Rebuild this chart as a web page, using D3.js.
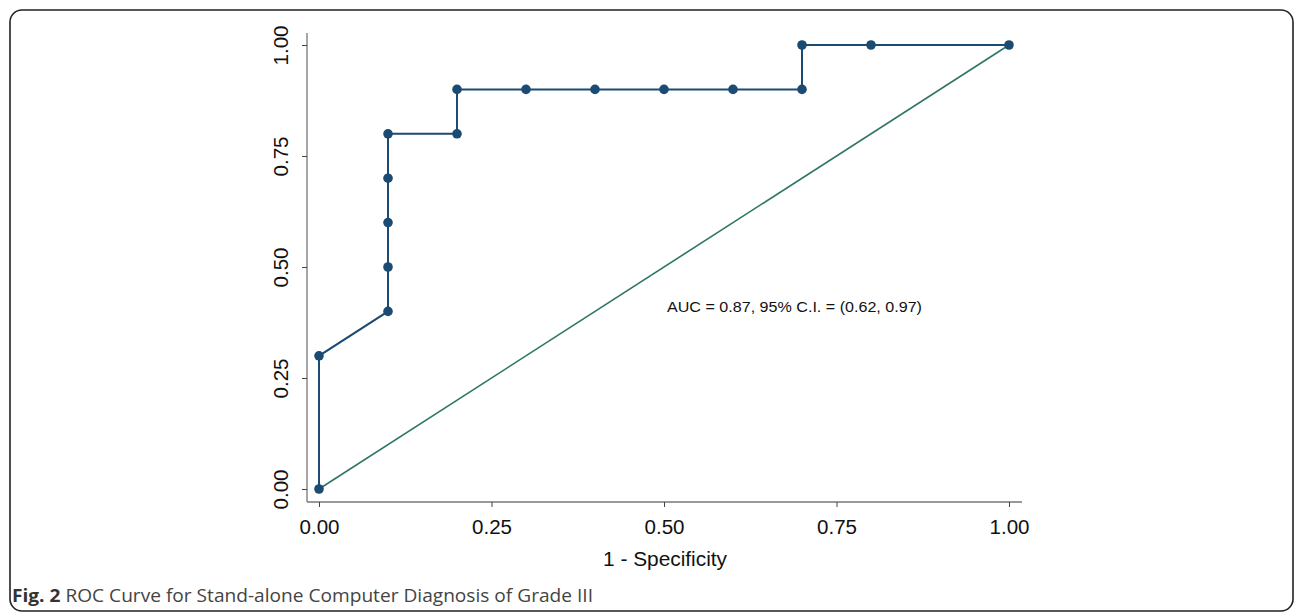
<!DOCTYPE html>
<html><head><meta charset="utf-8">
<script src="https://cdn.jsdelivr.net/npm/d3@7"></script>
<style>body{margin:0;background:#fff}svg{display:block}</style>
</head><body>
<svg id="c" width="1296" height="613"></svg>
<script>
const fpr = [0, 0, 0.1, 0.1, 0.1, 0.1, 0.1, 0.2, 0.2, 0.3, 0.4, 0.5, 0.6, 0.7, 0.7, 0.8, 1];
const tpr = [0, 0.3, 0.4, 0.5, 0.6, 0.7, 0.8, 0.8, 0.9, 0.9, 0.9, 0.9, 0.9, 0.9, 1, 1, 1];
const refX = [0, 1];
const refY = [0, 1];
const tickVals = [0, 0.25, 0.5, 0.75, 1];
const tickLabels = ["0.00", "0.25", "0.50", "0.75", "1.00"];
const xTitle = "1 - Specificity";
const aucText = "AUC = 0.87, 95% C.I. = (0.62, 0.97)";
const captionBold = "Fig. 2";
const captionText = " ROC Curve for Stand-alone Computer Diagnosis of Grade III";

const svg = d3.select("#c");
svg.append("rect").attr("x",10).attr("y",10).attr("width",1283).attr("height",601)
  .attr("rx",12).attr("fill","none").attr("stroke","#222").attr("stroke-width",1.6);

const x = d3.scaleLinear().domain([0,1]).range([319,1009]);
const y = d3.scaleLinear().domain([0,1]).range([489,45]);
const font = "'Liberation Sans', Arial, sans-serif";

// axes
const xAxis = d3.axisBottom(x).tickValues(tickVals).tickFormat((d,i)=>tickLabels[i]).tickSize(5).tickSizeOuter(0);
const gx = svg.append("g").attr("transform","translate(0,502)").call(xAxis);
gx.select(".domain").attr("d","M307,0H1022").attr("stroke","#777").attr("stroke-width",1.3);
gx.selectAll(".tick line").attr("stroke","#444");
gx.selectAll(".tick text").attr("font-family",font).attr("font-size",20).attr("fill","#111")
  .attr("dy",null).attr("y",32).attr("textLength",40).attr("lengthAdjust","spacingAndGlyphs");

const yAxis = d3.axisLeft(y).tickValues(tickVals).tickFormat((d,i)=>tickLabels[i]).tickSize(5).tickSizeOuter(0);
const gy = svg.append("g").attr("transform","translate(307,0)").call(yAxis);
gy.select(".domain").attr("d","M0,33V502").attr("stroke","#777").attr("stroke-width",1.3);
gy.selectAll(".tick line").attr("stroke","#444");
gy.selectAll(".tick text").attr("font-family",font).attr("font-size",20).attr("fill","#111")
  .attr("x",null).attr("dy",null).attr("text-anchor","middle")
  .attr("textLength",40).attr("lengthAdjust","spacingAndGlyphs")
  .attr("transform","translate(-19,0) rotate(-90)");

svg.append("text").attr("x",665).attr("y",566).attr("text-anchor","middle")
  .attr("font-family",font).attr("font-size",20.5).attr("fill","#111")
  .attr("textLength",124).attr("lengthAdjust","spacingAndGlyphs").text(xTitle);

// reference line
svg.append("line").attr("x1",x(refX[0])).attr("y1",y(refY[0])).attr("x2",x(refX[1])).attr("y2",y(refY[1]))
  .attr("stroke","#2f7566").attr("stroke-width",1.6);

// ROC curve
const pts = fpr.map((f,i)=>[f,tpr[i]]);
svg.append("path").attr("d", d3.line().x(d=>x(d[0])).y(d=>y(d[1]))(pts))
  .attr("fill","none").attr("stroke","#1b4a72").attr("stroke-width",2);
svg.selectAll("circle.p").data(pts).join("circle").attr("class","p")
  .attr("cx",d=>x(d[0])).attr("cy",d=>y(d[1])).attr("r",4.8).attr("fill","#1b4a72");

svg.append("text").attr("x",667).attr("y",312).attr("font-family",font).attr("font-size",15.5)
  .attr("fill","#111").attr("textLength",255).attr("lengthAdjust","spacingAndGlyphs").text(aucText);

const cap = svg.append("text").attr("x",12).attr("y",602).attr("font-family","'Open Sans', 'Noto Sans', sans-serif")
  .attr("font-size",18).attr("fill","#444").attr("textLength",581).attr("lengthAdjust","spacingAndGlyphs");
cap.append("tspan").attr("font-weight","bold").attr("fill","#333").text(captionBold);
cap.append("tspan").text(captionText);
</script>
</body></html>
